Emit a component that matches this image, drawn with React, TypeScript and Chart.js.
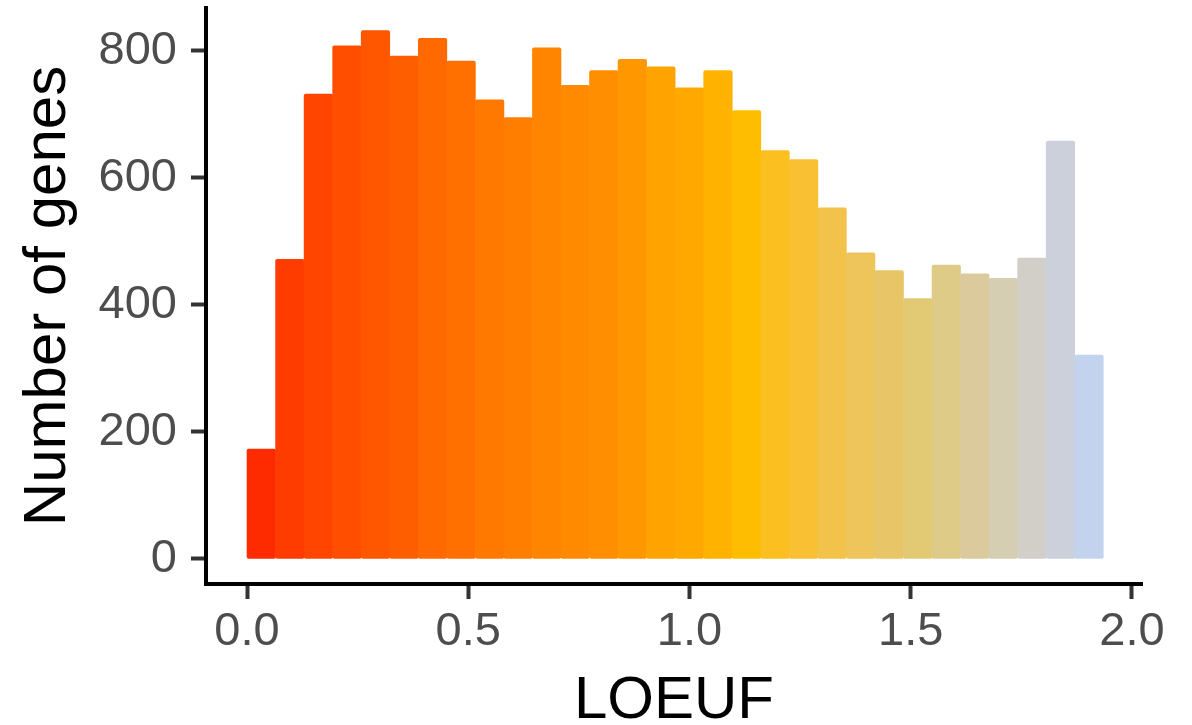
import { useEffect, useRef } from "react";
import { Chart, registerables } from "chart.js";

Chart.register(...registerables);

// Histogram bin centers (LOEUF)
const binCenters = [
  0.0323, 0.0968, 0.1613, 0.2258, 0.2903, 0.3548, 0.4193, 0.4838, 0.5483, 0.6128,
  0.6773, 0.7418, 0.8063, 0.8708, 0.9353, 0.9998, 1.0643, 1.1288, 1.1933, 1.2578,
  1.3223, 1.3868, 1.4513, 1.5158, 1.5803, 1.6448, 1.7093, 1.7738, 1.8383, 1.9028,
];

// Number of genes per bin
const geneCounts = [
  173, 472, 732, 808, 832, 792, 820, 784, 723, 695,
  805, 746, 769, 787, 775, 742, 769, 706, 643, 629,
  553, 482, 454, 410, 463, 449, 442, 474, 658, 321,
];

// Fill colour of each bin
const barColors = [
  "#FF2B00", "#FF3C00", "#FF4500", "#FF4E00", "#FF5600", "#FF5E00", "#FF6900", "#FF7000", "#FF7800", "#FF7E00",
  "#FF8500", "#FF8A00", "#FF8F00", "#FF9800", "#FFA300", "#FFA800", "#FFB200", "#FFBD00", "#FCBF20", "#F8C032",
  "#F3C24A", "#EDC55A", "#E8C667", "#E2CA74", "#DFCB88", "#DBCB9C", "#D6CEB2", "#D1CFC8", "#CBD0DA", "#C3D3EE",
];

const xTickValues = [0, 0.5, 1, 1.5, 2];
const yTickValues = [0, 200, 400, 600, 800];
const xAxisTitle = "LOEUF";
const yAxisTitle = "Number of genes";

const FONT = "'Liberation Sans', Arial, Helvetica, sans-serif";

export default function App() {
  const canvasRef = useRef<HTMLCanvasElement>(null);

  useEffect(() => {
    const canvas = canvasRef.current;
    if (!canvas) return;
    const chart = new Chart(canvas, {
      type: "bar",
      data: {
        datasets: [
          {
            data: binCenters.map((x, i) => ({ x, y: geneCounts[i] })),
            backgroundColor: barColors,
            borderWidth: 0,
            borderRadius: 2,
            borderSkipped: false,
            barPercentage: 1,
            categoryPercentage: 1,
          },
        ],
      },
      options: {
        responsive: false,
        maintainAspectRatio: false,
        animation: false,
        layout: { padding: { top: 8, right: 50, left: 0, bottom: 0 } },
        plugins: {
          legend: { display: false },
          tooltip: { enabled: false },
        },
        scales: {
          x: {
            type: "linear",
            min: -0.0927,
            max: 2.0226,
            offset: false,
            afterBuildTicks: (s: any) => {
              s.ticks = xTickValues.map((v) => ({ value: v }));
            },
            afterFit: (s: any) => {
              s.height = 141;
              s.paddingLeft = 0;
              s.paddingRight = 0;
            },
            ticks: {
              callback: (v: any) => Number(v).toFixed(1),
              color: "#4D4D4D",
              font: { family: FONT, size: 47 },
              padding: 5,
              maxRotation: 0,
              autoSkip: false,
            },
            grid: {
              display: true,
              offset: false,
              drawOnChartArea: false,
              drawTicks: true,
              tickLength: 15,
              tickWidth: 4,
              tickColor: "#333333",
            },
            border: { display: true, color: "#000000", width: 4 },
            title: {
              display: true,
              text: xAxisTitle,
              color: "#000000",
              font: { family: FONT, size: 60, lineHeight: 0.8 },
              padding: { top: 0, bottom: 0 },
            },
          },
          y: {
            type: "linear",
            min: -39.4,
            max: 867.7,
            afterBuildTicks: (s: any) => {
              s.ticks = yTickValues.map((v) => ({ value: v }));
            },
            afterFit: (s: any) => {
              s.width = 206;
              s.paddingTop = 0;
              s.paddingBottom = 0;
            },
            ticks: {
              color: "#4D4D4D",
              font: { family: FONT, size: 47 },
              padding: 14,
            },
            grid: {
              display: true,
              drawOnChartArea: false,
              drawTicks: true,
              tickLength: 15,
              tickWidth: 4,
              tickColor: "#333333",
            },
            border: { display: true, color: "#000000", width: 4 },
            title: {
              display: true,
              text: yAxisTitle,
              color: "#000000",
              font: { family: FONT, size: 60, lineHeight: 0.8 },
              padding: { top: 24, bottom: 0 },
            },
          },
        },
      },
    });
    return () => chart.destroy();
  }, []);

  return (
    <div style={{ position: "absolute", left: 0, top: 0, width: 1192, height: 725, background: "#ffffff" }}>
      <canvas ref={canvasRef} width={1192} height={725} style={{ display: "block" }} />
    </div>
  );
}
